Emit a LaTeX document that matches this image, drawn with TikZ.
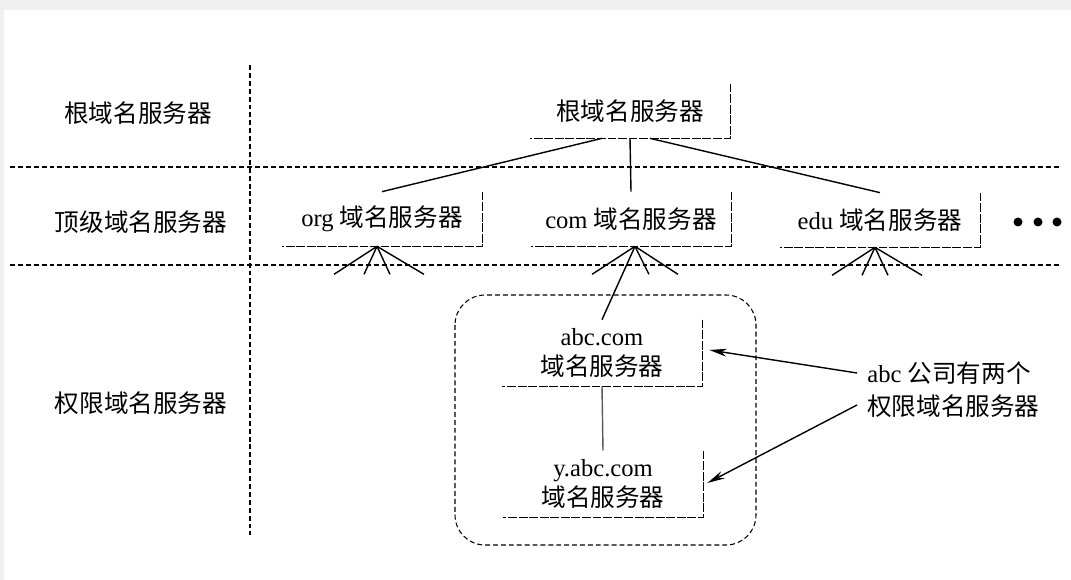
\documentclass[tikz,border=0pt]{standalone}
\usepackage{fontspec}
\setmainfont{Liberation Serif}
\newfontfamily\cjk{Noto Sans CJK SC}
\usetikzlibrary{arrows.meta}
\tikzset{
	lvl/.style = {align=center, inner sep=0pt,
		font=\fontsize{14}{17}\selectfont\cjk},% left column
	srv/.style = {align=center, inner sep=0pt, minimum width=4cm,
		minimum height=1.08cm, font=\fontsize{14}{17}\selectfont},% server box
	srv2/.style = {srv, minimum height=1.32cm},% two line server box
	note/.style = {align=left, inner sep=0pt, anchor=west,
		font=\fontsize{14}{19}\selectfont},% side note
	boxline/.style = {line width=0.5pt, dash pattern=on 5pt off 1pt},
	sep/.style = {line width=0.6pt, dash pattern=on 2.8pt off 1.7pt},
	fan/.style = {line width=0.8pt}
}
\begin{document}
\begin{tikzpicture}[x=0.02cm, y=-0.02cm, >={Stealth[length=10pt,width=4.5pt]}]
	\fill[gray!12] (0,0) rectangle (1071,580);
	\fill[white] (4,10) rectangle (1071,580);
	% separators
	\draw[sep] (10,167) -- (1060,167);
	\draw[sep] (10,265) -- (1060,265);
	\draw[sep] (250,65) -- (250,535);
	% left column
	\node[lvl] (l1) at (138,113) {根域名服务器};
	\node[lvl] (l2) at (141,222) {顶级域名服务器};
	\node[lvl] (l3) at (141,403) {权限域名服务器};
	% servers
	\node[srv] (root) at (630,111) {\cjk 根域名服务器};
	\node[srv] (org) at (382,219) {org {\cjk 域名服务器}};
	\node[srv] (com) at (631,219) {com {\cjk 域名服务器}};
	\node[srv] (edu) at (880,220) {edu {\cjk 域名服务器}};
	\node[srv2] (abc) at (602,353) {abc.com\\{\cjk 域名服务器}};
	\node[srv2] (yabc) at (603,484) {y.abc.com\\{\cjk 域名服务器}};
	\foreach \n in {root,org,com,edu,abc,yabc}
		\draw[boxline] (\n.north east) -- (\n.south east) -- (\n.south west);
	% tree
	\draw[fan] ([xshift=-0.56cm]root.south) -- (org.north);
	\draw[fan] (root.south) -- (com.north);
	\draw[fan] ([xshift=0.4cm]root.south) -- (edu.north);
	\foreach \n in {org,edu}
		\foreach \dx in {-43,-13,13,47}
			\draw[fan] ([xshift=-0.1cm]\n.south) -- ++(\dx,28);
	\foreach \dx in {-43,14,43}
		\draw[fan] ([xshift=0.08cm]com.south) -- ++(\dx,28);
	\draw[fan] ([xshift=0.08cm]com.south) -- (abc.north);
	\draw[fan, gray!70!black] (abc.south) -- (yabc.north);
	\foreach \x in {1018,1038,1057}
		\fill (\x,222) circle[radius=4.5];
	% abc zone
	\draw[sep, rounded corners=0.6cm] (455,295) rectangle (756,545);
	\node[note] (note) at (867,390) {abc {\cjk 公司有两个}\\{\cjk 权限域名服务器}};
	\draw[->, fan] ([shift={(-10,-17)}]note.west) -- ([shift={(7,-3)}]abc.east);
	\draw[->, fan] ([shift={(-10,15)}]note.west) -- ([shift={(4,-1)}]yabc.east);
\end{tikzpicture}
\end{document}
